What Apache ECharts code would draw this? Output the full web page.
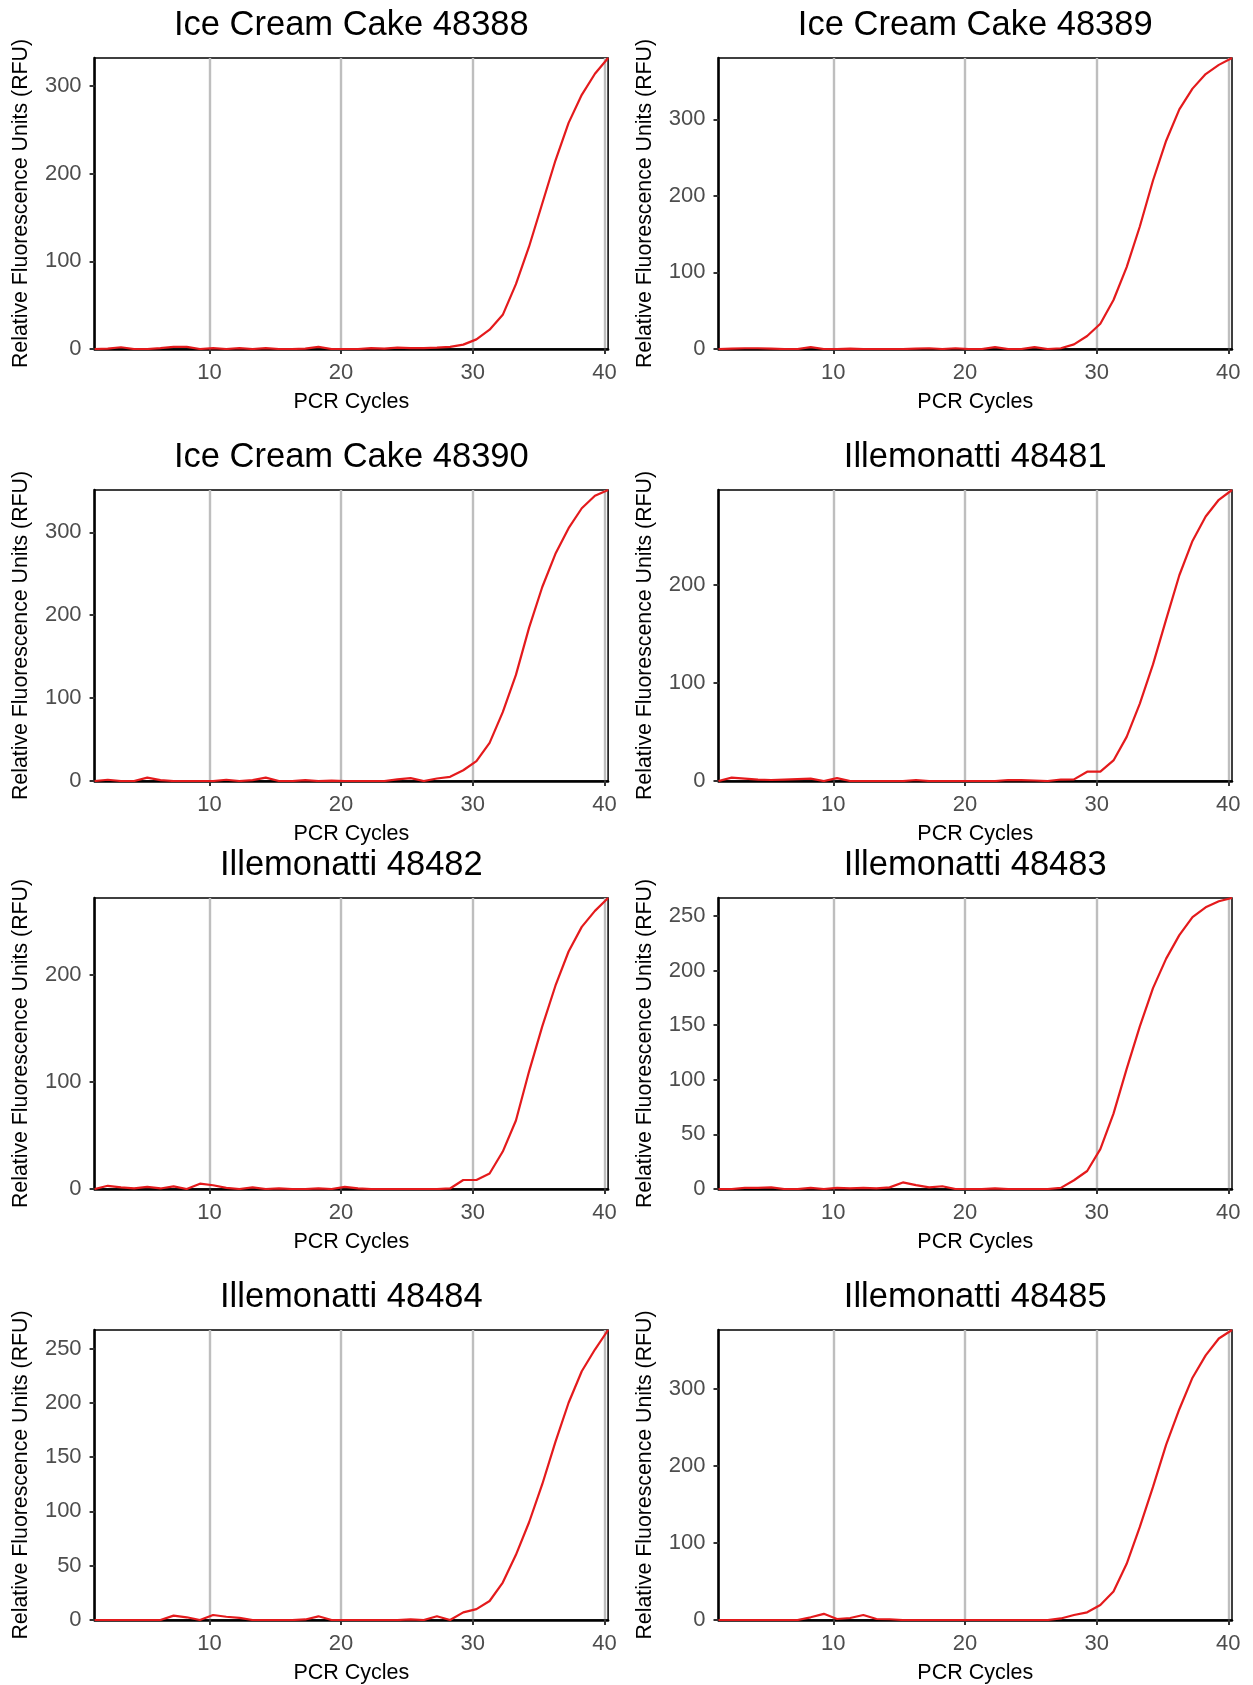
<!DOCTYPE html>
<html>
<head>
<meta charset="utf-8">
<script src="https://cdn.jsdelivr.net/npm/echarts@6/dist/echarts.min.js"></script>
<style>
html,body{margin:0;padding:0;background:#ffffff;}
#chart{width:1253px;height:1685px;}
</style>
</head>
<body>
<div id="chart"></div>
<script>
// ---- Data ----
const cycles = [1.28,2.28,3.28,4.28,5.28,6.28,7.28,8.28,9.28,10.28,
  11.28,12.28,13.28,14.28,15.28,16.28,17.28,18.28,19.28,20.28,
  21.28,22.28,23.28,24.28,25.28,26.28,27.28,28.28,29.28,30.28,
  31.28,32.28,33.28,34.28,35.28,36.28,37.28,38.28,39.28,40.28];

const panelTitles = ["Ice Cream Cake 48388","Ice Cream Cake 48389","Ice Cream Cake 48390","Illemonatti 48481",
  "Illemonatti 48482","Illemonatti 48483","Illemonatti 48484","Illemonatti 48485"];

const rfu48388 = [0,0.5,2,0,0,1,2.5,2.5,0,1, 0,1,0,1,0,0,0.5,2.5,0,0, 0,1,0.5,1.5,1,1,1.5,2.5,5,11, 22,39,74,117,166,215,258,290,314,332];
const rfu48389 = [0,0.5,1,1,0.5,0,0,2.5,0,0, 0.5,0,0,0,0,0.5,1,0,1,0, 0,2.5,0,0,2.5,0,1,6,17,33, 64,107,160,220,272,313,340,359,371,380];
const rfu48390 = [0,1.5,0,0,4,1,0,0,0,0, 1.5,0,1,4,0,0,1,0,0.5,0, 0,0,0,2,3.5,0,3,5,13,24, 46,83,128,185,234,274,305,329,344,351];
const rfu48481 = [0,3.5,2.5,1.5,1,1.5,2,2.5,0,3, 0,0,0,0,0,1,0,0,0,0, 0,0,1,0.8,0.5,0,1.5,1.7,9.5,9.5, 21,45,79,119,165,210,245,270,287,297];
const rfu48482 = [0,3,1.5,0.5,2,0.5,2.5,0,5,3.5, 1,0,1.5,0,0.5,0,0,0.5,0,2, 0.5,0,0,0,0,0,0,0.5,8.4,8.4, 14.5,35,64,110,152,190,222,245,260,272];
const rfu48483 = [0,0,1,1,1.5,0,0,1,0,1, 0.5,1,0.5,1.5,6,3.5,1.5,2.5,0,0, 0,0.5,0,0,0,0,1,8,16.5,36.5, 69,110,149,184,211,232.5,249,258,263.5,266.5];
const rfu48484 = [0,0,0,0,0,0,4,2.5,0,4.6, 3,2,0,0,0,0,0.5,3.4,0,0, 0,0,0,0,0.5,0,3.4,0,7,10, 17.5,34.5,60,90,125,164,200,229,249,267];
const rfu48485 = [0,0,0,0,0,0,0,3.5,8,1.3, 2.6,6.5,1.3,1,0,0,0,0,0,0, 0,0,0,0,0,0,2,6.5,10,19.5, 37,73,121,173,228,274,315,344,366,377];

const xTickValues = [10,20,30,40];
const yTicks100to300 = [0,100,200,300];
const yTicks100to200 = [0,100,200];
const yTicks50to250 = [0,50,100,150,200,250];

const xAxisTitle = "PCR Cycles";
const yAxisTitle = "Relative Fluorescence Units (RFU)";

// ---- Layout & style ----
const seriesList = [rfu48388,rfu48389,rfu48390,rfu48481,rfu48482,rfu48483,rfu48484,rfu48485];
const yTickList = [yTicks100to300,yTicks100to300,yTicks100to300,yTicks100to200,yTicks100to200,yTicks50to250,yTicks50to250,yTicks100to300];

const FONT = "'Liberation Sans', Arial, Helvetica, sans-serif";
const colLeft = [94.6, 718.5];
const colWidth = 513.5;
const rowTop = [58, 490, 898, 1330];
const rowHeight = 291;

const grids = [], xAxes = [], yAxes = [], series = [], titles = [];
for (let i = 0; i < 8; i++) {
  const c = i % 2, r = Math.floor(i / 2);
  grids.push({
    left: colLeft[c], top: rowTop[r], width: colWidth, height: rowHeight,
    show: true, borderColor: '#000', borderWidth: 1.5, backgroundColor: 'transparent'
  });
  xAxes.push({
    type: 'value', gridIndex: i, min: cycles[0], max: cycles[cycles.length - 1],
    name: xAxisTitle, nameLocation: 'middle', nameGap: 42,
    nameTextStyle: { fontSize: 21.5, color: '#000', fontFamily: FONT },
    axisLine: { show: true, onZero: false, lineStyle: { color: '#000', width: 2.5 } },
    axisTick: { show: true, length: 5, customValues: xTickValues, lineStyle: { color: '#333', width: 2 } },
    axisLabel: { show: true, customValues: xTickValues, margin: 13, fontSize: 22, color: '#4d4d4d', fontFamily: FONT },
    splitLine: { show: true, lineStyle: { color: '#bebebe', width: 2.4 } }
  });
  yAxes.push({
    type: 'value', gridIndex: i, min: 0, max: 'dataMax',
    name: yAxisTitle, nameLocation: 'middle', nameGap: 63,
    nameTextStyle: { fontSize: 21.3, color: '#000', fontFamily: FONT },
    axisLine: { show: true, onZero: false, lineStyle: { color: '#000', width: 2.5 } },
    axisTick: { show: true, length: 5, customValues: yTickList[i], lineStyle: { color: '#333', width: 2 } },
    axisLabel: { show: true, customValues: yTickList[i], margin: 13, fontSize: 22, color: '#4d4d4d', fontFamily: FONT },
    splitLine: { show: false }
  });
  series.push({
    type: 'line', xAxisIndex: i, yAxisIndex: i,
    data: cycles.map((x, k) => [x, seriesList[i][k]]),
    showSymbol: false, symbol: 'none', smooth: false, clip: true,
    lineStyle: { color: '#e41a1c', width: 2.2 },
    animation: false
  });
  titles.push({
    text: panelTitles[i],
    left: colLeft[c] + colWidth / 2, top: rowTop[r] - 50,
    textAlign: 'center', padding: 0,
    textStyle: { fontSize: 34.5, fontWeight: 'normal', color: '#000', fontFamily: FONT }
  });
}

const chart = echarts.init(document.getElementById('chart'), null, { renderer: 'canvas' });
chart.setOption({
  backgroundColor: '#ffffff',
  animation: false,
  title: titles,
  grid: grids,
  xAxis: xAxes,
  yAxis: yAxes,
  series: series
});
</script>
</body>
</html>
